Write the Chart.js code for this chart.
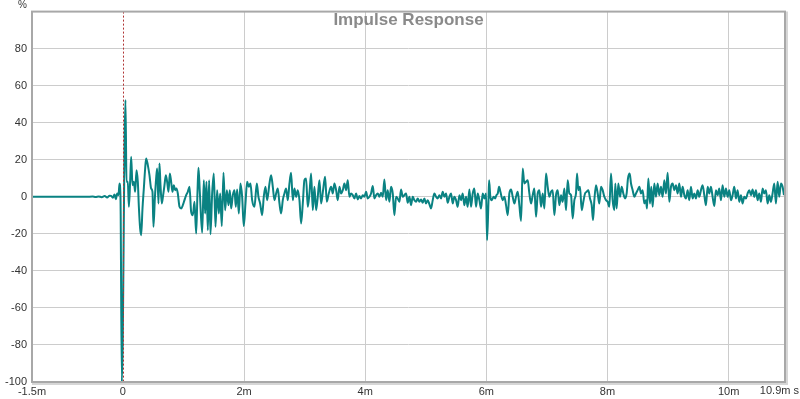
<!DOCTYPE html>
<html>
<head>
<meta charset="utf-8">
<script src="https://cdn.jsdelivr.net/npm/chart.js@4/dist/chart.umd.min.js"></script>
<style>
html,body{margin:0;padding:0;background:#fff;}
#wrap{width:800px;height:399px;}
</style>
</head>
<body>
<div id="wrap"><canvas id="c" width="800" height="399"></canvas></div>
<script>
// Time axis in milliseconds
const timeMs = [
 -1.5, -0.6, -0.5, -0.45, -0.4, -0.35, -0.3, -0.26, -0.22,
 -0.193, -0.166, -0.138, -0.116, -0.094, -0.072, -0.056, -0.039, -0.017, 0.043,
 0.060, 0.082, 0.099, 0.120, 0.137, 0.159, 0.181, 0.203, 0.225, 0.247,
 0.264, 0.285, 0.302, 0.324, 0.346, 0.368, 0.384, 0.412, 0.439, 0.467,
 0.489, 0.505, 0.528, 0.549, 0.566, 0.588, 0.604, 0.621, 0.643, 0.665,
 0.687, 0.709, 0.731, 0.753, 0.775, 0.797, 0.819, 0.841, 0.863, 0.885,
 0.907, 0.935, 0.962, 0.990, 1.017, 1.045, 1.072, 1.100, 1.127, 1.155,
 1.182, 1.210, 1.232, 1.248, 1.270,
 1.309, 1.336, 1.358, 1.380, 1.402, 1.424, 1.446, 1.474, 1.501, 1.529,
 1.556, 1.584, 1.606, 1.633, 1.661, 1.688, 1.716, 1.743, 1.765, 1.787,
 1.815, 1.842, 1.864, 1.886, 1.914, 1.941, 1.969, 1.996, 2.024, 2.051,
 2.079, 2.106, 2.134, 2.172, 2.211, 2.238, 2.266, 2.299, 2.326, 2.354,
 2.381, 2.420, 2.447, 2.475, 2.502, 2.530, 2.557, 2.585, 2.612, 2.640,
 2.667, 2.695, 2.722, 2.750, 2.777, 2.805, 2.832, 2.860, 2.887, 2.915,
 2.942, 2.970, 2.997, 3.025, 3.052, 3.080, 3.107, 3.135, 3.162, 3.190,
 3.217, 3.245, 3.272, 3.305, 3.338, 3.366, 3.399, 3.437, 3.465, 3.492,
 3.520, 3.547, 3.575, 3.602, 3.630, 3.657, 3.685, 3.712, 3.740,
 3.767, 3.795, 3.822, 3.850, 3.877, 3.905, 3.932, 3.960, 3.987, 4.015,
 4.042, 4.070, 4.097, 4.125, 4.152, 4.180, 4.207, 4.235, 4.262, 4.290,
 4.317, 4.345, 4.372, 4.400, 4.427, 4.455, 4.482, 4.510, 4.537, 4.565,
 4.592, 4.620, 4.647, 4.675, 4.702, 4.730, 4.757, 4.785, 4.812, 4.840,
 4.867, 4.895, 4.922, 4.950, 4.977, 5.005, 5.032, 5.060, 5.087, 5.115,
 5.142, 5.170, 5.197, 5.225, 5.252, 5.280, 5.307, 5.335, 5.362, 5.390,
 5.417, 5.445, 5.472, 5.500, 5.527, 5.555, 5.582, 5.610, 5.637, 5.665,
 5.692, 5.720, 5.747, 5.775, 5.802, 5.830, 5.857, 5.885, 5.912, 5.940,
 5.967, 5.995, 6.012, 6.034, 6.045, 6.066, 6.089, 6.122, 6.144, 6.166,
 6.188, 6.210, 6.232,
 6.270, 6.298, 6.325, 6.353, 6.380, 6.408, 6.435, 6.463, 6.490, 6.518,
 6.545, 6.573, 6.600, 6.628, 6.655, 6.683, 6.710, 6.738, 6.765, 6.793,
 6.820, 6.848, 6.875, 6.903, 6.930, 6.958, 6.985, 7.013, 7.040, 7.068,
 7.095, 7.123, 7.150, 7.178, 7.205, 7.233, 7.260, 7.288, 7.315, 7.343,
 7.370, 7.398, 7.425, 7.453, 7.480, 7.497, 7.519, 7.546, 7.574, 7.601,
 7.629, 7.656, 7.684, 7.711, 7.739, 7.761, 7.783, 7.810, 7.838, 7.865,
 7.893, 7.920, 7.948, 7.975, 8.003, 8.030, 8.058, 8.085, 8.113, 8.129,
 8.151, 8.179, 8.206, 8.234, 8.261, 8.289, 8.316, 8.338, 8.366, 8.388,
 8.415, 8.443, 8.470, 8.498, 8.525, 8.553, 8.580, 8.608,
 8.635, 8.652, 8.674, 8.701, 8.723, 8.745, 8.773, 8.800, 8.828, 8.855,
 8.883, 8.910, 8.938, 8.965, 8.993, 9.020, 9.048, 9.075, 9.103, 9.130,
 9.158, 9.185, 9.213, 9.240, 9.268, 9.295, 9.323, 9.350, 9.378, 9.405,
 9.433, 9.460, 9.488, 9.515, 9.543, 9.570, 9.598, 9.625, 9.653, 9.680,
 9.708, 9.735, 9.763, 9.790, 9.818, 9.845, 9.873, 9.900, 9.928, 9.955,
 9.983, 10.010, 10.038, 10.065, 10.093, 10.120, 10.148, 10.175, 10.203, 10.230,
 10.258, 10.285, 10.313, 10.340, 10.368, 10.395, 10.423, 10.450, 10.478, 10.505,
 10.533, 10.560, 10.588, 10.615, 10.643, 10.670, 10.698, 10.725, 10.753, 10.780,
 10.808, 10.835, 10.863, 10.890, 10.913
];

// Impulse amplitude in %
const amplitudePct = [
 0, 0, 0.1, -0.1, 0.2, -0.2, 0.4, -0.4, 0.6,
 0.5, -0.5, 1.3, -1.3, 1.8, 0.9, 7.2, -0.9, -100, 52.3,
 8.1, 8.1, -5.4, 8.1, 21.6, 6.3, 8.1, 2.7, 14.4, 8.1,
 -5.4, -17.1, -20.7, -6.3, 4.5, 15.3, 20.7, 17.1, 11.7, 4.5,
 2.7, -16.2, -0.9, 9.9, 15.3, -3.6, 18.0, 6.3, -3.6, 0.9,
 6.3, 11.7, 8.1, 2.7, 12.6, 8.1, 2.7, 6.3, 3.6, 4.5,
 1.8, -5.4, -6.3, -4.5, -1.8, 0.9, 2.7, 5.4, -8.1, -9.9,
 -2.7, -19.8, 2.7, 15.7, 2.7,
 -19.4, 9.0, -9.0, 8.1, -18.0, 9.0, -20.2, 1.8, 12.6, -16.2,
 3.6, -9.0, 1.8, -15.8, 13.0, -7.2, 3.6, -4.5, 3.6, -6.3,
 0.9, 3.6, -5.4, 4.0, -9.0, 7.2, 0, -15.8, -3.6, 8.1,
 5.4, 7.2, -1.8, -5.4, 7.2, 0, -3.6, -9.9, 0, 5.4,
 -1.8, 7.2, 11.7, 5.4, -1.8, 1.8, 4.5, -3.6, -9.0, -1.8,
 1.8, 4.5, -1.8, 7.2, 13.0, -1.8, 4.5, 0, 3.6, -1.8,
 -14.4, -3.6, 9.0, 9.9, -5.4, 1.8, 12.6, -7.2, 5.4, -7.2,
 0, 9.0, -3.6, 3.6, 10.8, -2.7, 1.8, 5.4, 1.8, 7.2,
 3.6, -1.8, 5.4, 1.8, 3.6, 7.2, 3.6, 9.0, 0,
 1.8, 0.9, -0.9, 1.8, -1.4, 0.4, -0.9, 0.9, 0, 2.7,
 -0.9, 0, 1.8, 5.8, -0.9, 0.9, 1.8, 0, 2.2, 0,
 9.4, -1.8, 3.6, -2.7, 5.4, 1.8, -9.9, 0, -0.9, -2.7,
 4.0, 0, 0.9, 1.8, -3.2, 0, -4.5, 0, -1.8, -2.7,
 -0.9, -2.7, -1.4, -3.2, -0.9, -3.6, -1.8, -4.0, -6.3, -1.8,
 1.8, 0, -0.9, 0.9, -0.9, 2.7, 0, 1.8, -3.2, 0,
 1.8, -3.6, 0, -1.8, -5.4, 0.9, -1.8, 1.8, -4.5, 0,
 -5.4, 4.0, -5.4, 1.8, 4.5, -5.4, 1.8, -1.8, -6.3, 1.8,
 -0.9, 1.8, -23.4, -3.6, 9.0, 0, -1.8, 0, -0.9, 0.9,
 1.8, 5.4, 2.7,
 -1.8, 0, -4.5, -9.9, 1.8, 4.0, 0, -3.6, 0, 2.7,
 -4.5, -13.0, 15.3, 7.2, 8.1, 9.0, 1.8, -3.6, 0.9, 4.5,
 -10.8, 1.8, 3.6, -5.4, 1.8, -6.3, 12.6, 5.4, 0, 2.7,
 3.6, -9.9, 0.9, 3.6, -4.5, 0.9, -2.7, 4.5, -7.2, 9.0,
 1.8, 0.9, -11.7, -1.8, 1.8, 12.6, 3.6, 5.4, -7.2, -2.7,
 1.8, 2.7, 3.6, -0.9, -4.5, -12.6, -1.8, 6.3, 1.8, -3.6,
 5.4, 3.6, 0, -1.8, -2.7, -5.4, 12.6, -1.8, -7.2, 7.2,
 -6.3, 7.2, 0, 5.4, 1.8, -0.9, 1.8, 9.9, 12.6, 7.2,
 3.6, 0, 1.8, 3.6, 5.4, 1.8, 3.6, -3.6,
 -1.8, -6.3, 9.9, -3.6, 5.4, -5.4, 7.2, 0, 7.2, 0.9,
 5.4, 0, 9.0, 1.8, 13.0, -2.7, 5.4, 7.2, 3.6, 6.3,
 1.8, 7.2, 0, 5.4, 0.9, -0.9, 3.6, -1.8, 5.4, -0.9,
 1.8, -0.9, 3.6, 0, 3.6, 6.3, 0.9, -4.5, 5.4, 1.8,
 5.4, 0, -5.0, 3.6, 0.9, 4.5, -1.8, 6.3, 0, 4.5,
 0, 3.6, -1.8, 0.9, 5.4, -0.9, 3.6, -2.7, 0.9, -3.6,
 0, -0.9, 1.8, 3.6, 0.9, 4.0, 0, 3.6, -1.8, 1.8,
 -2.7, 4.5, 1.8, 3.6, -3.6, 0.9, -2.7, 1.8, 7.2, -3.6,
 8.1, 0, 7.2, 5.4, 0.9
];

const xTickValues = [-1.5, 0, 2, 4, 6, 8, 10];
const yTickValues = [-100, -80, -60, -40, -20, 0, 20, 40, 60, 80];
const xMin = -1.5, xMax = 10.93, yMin = -100, yMax = 100;
const endLabel = '10.9m s';
const titleText = 'Impulse Response';
const unitLabel = '%';

const points = timeMs.map((t, i) => ({ x: t, y: amplitudePct[i] }));
const FONT = '"Liberation Sans", Arial, sans-serif';

const decor = {
  id: 'decor',
  afterDatasetsDraw(chart) {
    const { ctx, chartArea: a, scales } = chart;
    ctx.save();
    const x0 = Math.round(scales.x.getPixelForValue(0)) + 0.5;
    ctx.strokeStyle = '#b03434';
    ctx.lineWidth = 1;
    ctx.setLineDash([2, 2]);
    ctx.beginPath();
    ctx.moveTo(x0, a.top);
    ctx.lineTo(x0, a.bottom);
    ctx.stroke();
    ctx.setLineDash([]);
    ctx.strokeStyle = '#a8a8a8';
    ctx.lineWidth = 2;
    ctx.strokeRect(a.left, a.top, a.right - a.left, a.bottom - a.top);
    ctx.strokeStyle = '#d6d6d6';
    ctx.lineWidth = 2;
    ctx.beginPath();
    ctx.moveTo(a.right + 2, a.top);
    ctx.lineTo(a.right + 2, a.bottom + 2);
    ctx.lineTo(a.left, a.bottom + 2);
    ctx.stroke();
    ctx.fillStyle = '#8a8a8a';
    ctx.font = 'bold 17px ' + FONT;
    ctx.textAlign = 'center';
    ctx.textBaseline = 'middle';
    ctx.fillText(titleText, (a.left + a.right) / 2, a.top + 9);
    ctx.fillStyle = '#333';
    ctx.font = '10px ' + FONT;
    ctx.textAlign = 'right';
    ctx.fillText(unitLabel, a.left - 5, a.top - 6);
    ctx.font = '11px ' + FONT;
    ctx.textAlign = 'right';
    ctx.textBaseline = 'middle';
    ctx.fillText(endLabel, chart.width - 1, a.bottom + 9);
    ctx.restore();
  }
};

new Chart(document.getElementById('c'), {
  type: 'line',
  data: {
    datasets: [{
      data: points,
      borderColor: '#0a8282',
      borderWidth: 2,
      pointRadius: 0,
      cubicInterpolationMode: 'monotone',
      fill: false
    }]
  },
  options: {
    responsive: false,
    animation: false,
    devicePixelRatio: 1,
    layout: { padding: { top: 11, right: 15, left: 0, bottom: 0 } },
    plugins: { legend: { display: false }, tooltip: { enabled: false }, title: { display: false } },
    scales: {
      x: {
        type: 'linear',
        min: xMin, max: xMax,
        afterBuildTicks: s => { s.ticks = xTickValues.map(v => ({ value: v })); },
        afterFit: s => { s.height = 17; },
        border: { display: false },
        grid: {
          drawTicks: false,
          color: c => (c.tick && c.tick.value > 0) ? '#cccccc' : 'rgba(0,0,0,0)',
          lineWidth: 1
        },
        ticks: {
          padding: 3,
          maxRotation: 0,
          autoSkip: false,
          color: '#333',
          font: { family: FONT, size: 11 },
          callback: v => v === 0 ? '0' : v + 'm'
        }
      },
      y: {
        min: yMin, max: yMax,
        afterBuildTicks: s => { s.ticks = yTickValues.concat([yMax]).map(v => ({ value: v })); },
        afterFit: s => { s.width = 32; },
        border: { display: false },
        grid: {
          drawTicks: false,
          color: c => (c.tick && c.tick.value > yMin && c.tick.value < yMax) ? '#cccccc' : 'rgba(0,0,0,0)',
          lineWidth: 1
        },
        ticks: {
          padding: 5,
          color: '#333',
          font: { family: FONT, size: 11 },
          callback: v => v === yMax ? '' : String(v)
        }
      }
    }
  },
  plugins: [decor]
});
</script>
</body>
</html>
